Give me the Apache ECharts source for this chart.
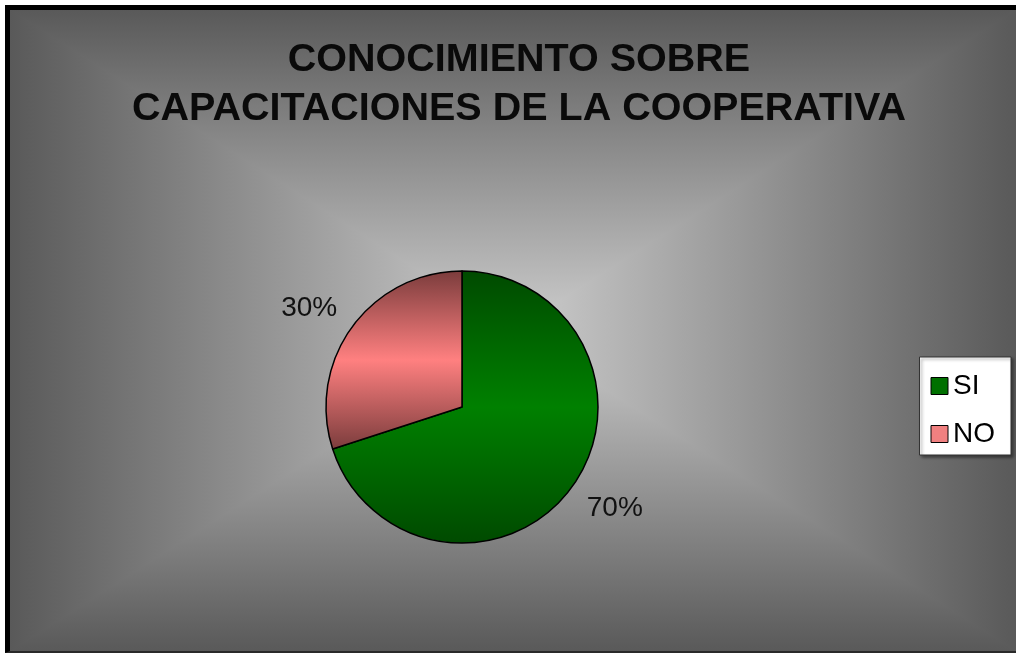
<!DOCTYPE html>
<html>
<head>
<meta charset="utf-8">
<title>Conocimiento sobre capacitaciones</title>
<script src="https://cdn.jsdelivr.net/npm/echarts@6/dist/echarts.min.js"></script>
<style>
  html, body { margin: 0; padding: 0; background: #fff; }
  .frame {
    position: absolute;
    left: 5px;
    top: 5px;
    width: 1011px;
    height: 648px;
    box-sizing: border-box;
    border-left: 5px solid #000;
    border-top: 5px solid #000;
    border-bottom: 2px solid #2a2a2a;
  }
  #chart { width: 1006px; height: 641px; }
</style>
</head>
<body>
<div class="frame"><div id="chart"></div></div>
<script>
// datos de la encuesta
const titleLines = ['CONOCIMIENTO SOBRE', 'CAPACITACIONES DE LA COOPERATIVA']
const categories = ['SI', 'NO']
const values = [70, 30]

// colores (degradado de cada porcion y color del icono de la leyenda)
const sliceEdge = ['#004a00', '#7a3c3c']
const sliceMid = ['#008000', '#ff8080']
const legendColor = ['#007000', '#f08080']

const chart = echarts.init(document.getElementById('chart'))
const W = 1006
const H = 641
const cx = W / 2
const cy = H / 2
const dark = '#595959'
const light = '#cdcdcd'

// fondo tipo "desde el centro" de Excel: cuatro triangulos con degradado
function tri (points, x, y, x2, y2) {
  const grad = new echarts.graphic.LinearGradient(x, y, x2, y2, [
    { offset: 0, color: dark },
    { offset: 1, color: light }
  ])
  return {
    type: 'polygon',
    silent: true,
    z: -10,
    shape: { points: points },
    style: { fill: grad, stroke: grad, lineWidth: 1.5 }
  }
}

const seriesData = categories.map((name, i) => {
  return {
    name: name,
    value: values[i],
    itemStyle: {
      color: new echarts.graphic.LinearGradient(0, 0, 0, 1, [
        { offset: 0, color: sliceEdge[i] },
        { offset: 0.5, color: sliceMid[i] },
        { offset: 1, color: sliceEdge[i] }
      ])
    }
  }
})

const option = {
  animation: false,
  backgroundColor: '#8a8a8a',
  graphic: [
    tri([[0, 0], [W, 0], [cx, cy]], 0, 0, 0, 1),
    tri([[0, H], [W, H], [cx, cy]], 0, 1, 0, 0),
    tri([[0, 0], [0, H], [cx, cy]], 0, 0, 1, 0),
    tri([[W, 0], [W, H], [cx, cy]], 1, 0, 0, 0)
  ],
  title: {
    text: titleLines.join('\n'),
    left: 509,
    top: 26,
    padding: 0,
    textAlign: 'center',
    textStyle: {
      fontFamily: 'Liberation Sans, Arial, sans-serif',
      fontSize: 39.5,
      fontWeight: 'bold',
      color: '#0a0a0a',
      lineHeight: 49
    }
  },
  legend: {
    orient: 'vertical',
    right: 5,
    top: 347,
    icon: 'rect',
    itemWidth: 17,
    itemHeight: 17,
    itemGap: 20,
    padding: [15, 16, 7, 11],
    backgroundColor: '#ffffff',
    borderColor: '#333',
    borderWidth: 1,
    borderRadius: 0,
    shadowColor: 'rgba(0,0,0,0.45)',
    shadowBlur: 3,
    shadowOffsetX: 2,
    shadowOffsetY: 2,
    textStyle: {
      fontFamily: 'Liberation Sans, Arial, sans-serif',
      fontSize: 28,
      color: '#000'
    },
    data: categories.map((name, i) => ({
      name: name,
      itemStyle: { color: legendColor[i], borderColor: '#000', borderWidth: 1 }
    }))
  },
  series: [
    {
      type: 'pie',
      center: [452, 397],
      radius: 136,
      startAngle: 90,
      clockwise: true,
      itemStyle: { borderColor: '#000', borderWidth: 1.5 },
      label: {
        show: true,
        position: 'outside',
        formatter: '{d}%',
        fontFamily: 'Liberation Sans, Arial, sans-serif',
        fontSize: 28,
        color: '#111'
      },
      labelLine: { show: false, length: 12, length2: 0 },
      // Excel pone las etiquetas un poco mas lejos en vertical
      labelLayout: function (params) {
        return { dy: params.dataIndex === 0 ? 14 : -12 }
      },
      emphasis: { disabled: true },
      data: seriesData
    }
  ]
}

chart.setOption(option)
</script>
</body>
</html>
